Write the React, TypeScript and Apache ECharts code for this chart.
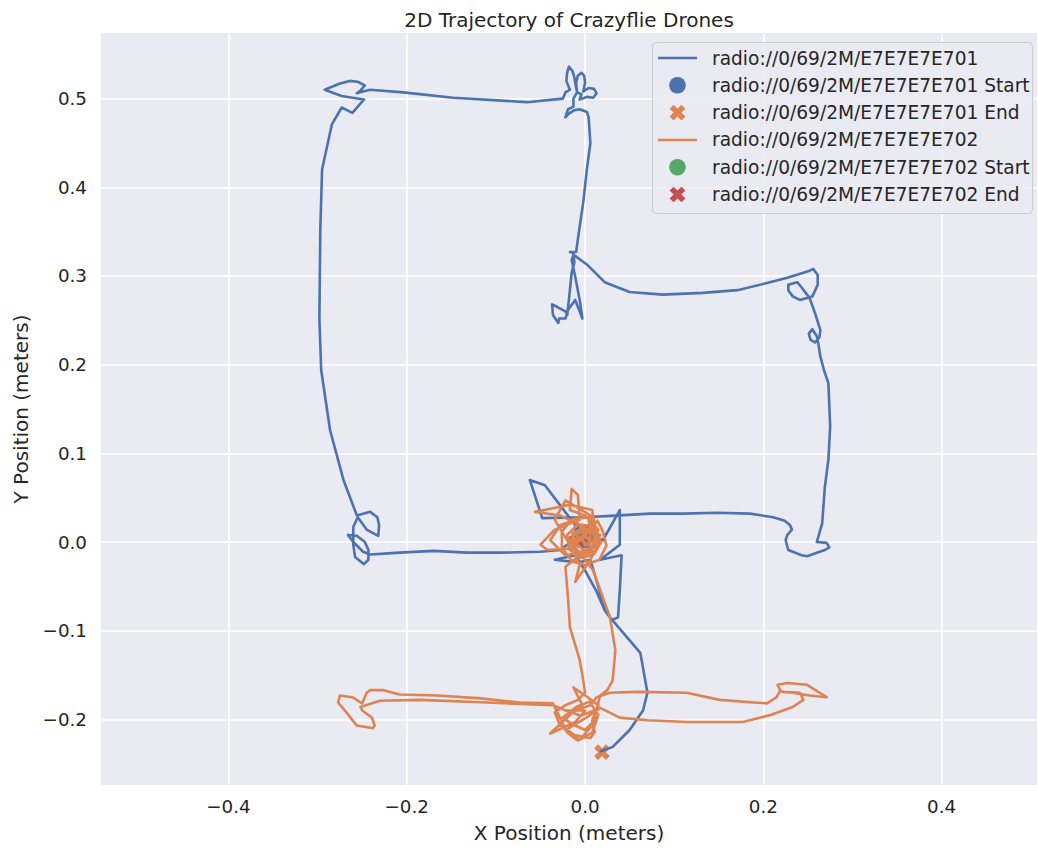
import React, { useEffect, useRef } from "react";
import * as echarts from "echarts";

const drone701Label = "radio://0/69/2M/E7E7E7E701";
const drone702Label = "radio://0/69/2M/E7E7E7E702";

const chartTitle = "2D Trajectory of Crazyflie Drones";
const xAxisTitle = "X Position (meters)";
const yAxisTitle = "Y Position (meters)";

const xRange = [-0.543, 0.507];
const yRange = [-0.274, 0.574];

const drone701Path: [number, number][] = [
  [-0.002, 0.002], [-0.011, 0.014], [0.006, 0.019], [0.011, -0.003], [-0.008, -0.015], [-0.017, 0.005], [0.003, 0.014],
  [-0.028, -0.009], [-0.05, -0.011], [-0.095, -0.012], [-0.132, -0.012], [-0.17, -0.01], [-0.208, -0.012], [-0.241, -0.014],
  [-0.249, -0.011], [-0.26, 0.0], [-0.266, 0.008], [-0.256, 0.007], [-0.247, 0.0], [-0.243, -0.009], [-0.243, -0.02],
  [-0.248, -0.025], [-0.258, -0.017], [-0.26, -0.003], [-0.26, 0.017], [-0.255, 0.028], [-0.245, 0.014], [-0.232, 0.007],
  [-0.231, 0.019], [-0.233, 0.028], [-0.241, 0.034], [-0.256, 0.03],
  [-0.271, 0.07], [-0.286, 0.126], [-0.296, 0.194], [-0.298, 0.251], [-0.297, 0.352], [-0.295, 0.42], [-0.284, 0.471],
  [-0.273, 0.49], [-0.261, 0.484], [-0.248, 0.499], [-0.261, 0.501], [-0.273, 0.503], [-0.292, 0.51], [-0.275, 0.517],
  [-0.264, 0.52], [-0.255, 0.519], [-0.247, 0.515], [-0.252, 0.509], [-0.256, 0.506], [-0.249, 0.508], [-0.241, 0.51],
  [-0.204, 0.507], [-0.148, 0.501], [-0.065, 0.496], [-0.025, 0.5],
  [-0.022, 0.507], [-0.017, 0.51], [-0.021, 0.52], [-0.02, 0.53], [-0.018, 0.536], [-0.014, 0.531], [-0.012, 0.524],
  [-0.01, 0.512], [-0.009, 0.508], [-0.01, 0.518], [-0.008, 0.526], [-0.004, 0.529], [-0.001, 0.526], [0.0, 0.518],
  [-0.002, 0.508], [0.004, 0.512], [0.01, 0.511], [0.013, 0.506], [0.009, 0.501], [0.002, 0.502], [-0.006, 0.499],
  [-0.004, 0.505], [-0.009, 0.507], [-0.013, 0.5], [-0.013, 0.491], [-0.019, 0.488], [-0.022, 0.479], [-0.018, 0.483],
  [-0.012, 0.487], [-0.006, 0.488], [0.002, 0.485], [0.004, 0.479],
  [0.006, 0.45], [0.002, 0.42], [-0.002, 0.383], [-0.007, 0.349], [-0.01, 0.327],
  [-0.017, 0.327], [-0.013, 0.326], [-0.012, 0.315], [-0.015, 0.304], [-0.017, 0.284], [-0.019, 0.265], [-0.02, 0.256],
  [-0.022, 0.26], [-0.031, 0.265], [-0.037, 0.268], [-0.036, 0.256], [-0.03, 0.247], [-0.029, 0.252], [-0.022, 0.252],
  [-0.019, 0.262], [-0.011, 0.273], [-0.003, 0.252], [-0.006, 0.273], [-0.011, 0.299], [-0.015, 0.318], [-0.013, 0.324],
  [0.002, 0.313], [0.022, 0.293], [0.05, 0.282], [0.087, 0.279], [0.132, 0.281], [0.171, 0.284], [0.204, 0.292],
  [0.227, 0.298], [0.252, 0.306], [0.256, 0.308], [0.261, 0.301], [0.261, 0.29], [0.255, 0.277], [0.241, 0.273],
  [0.233, 0.277], [0.228, 0.284], [0.228, 0.29], [0.238, 0.293], [0.243, 0.287], [0.252, 0.275], [0.258, 0.258],
  [0.264, 0.239], [0.263, 0.231], [0.258, 0.225], [0.253, 0.228], [0.251, 0.235], [0.255, 0.24], [0.26, 0.232],
  [0.262, 0.222], [0.264, 0.209], [0.268, 0.194],
  [0.273, 0.179], [0.275, 0.13], [0.273, 0.093], [0.269, 0.062], [0.266, 0.021], [0.26, 0.0], [0.271, -0.001],
  [0.274, -0.006], [0.269, -0.009], [0.26, -0.012], [0.249, -0.016], [0.243, -0.015], [0.228, -0.009], [0.225, 0.002],
  [0.227, 0.008], [0.232, 0.014], [0.23, 0.019], [0.224, 0.024], [0.211, 0.028], [0.185, 0.032], [0.148, 0.033],
  [0.11, 0.032], [0.073, 0.032], [0.039, 0.03], [0.0, 0.028], [-0.048, 0.027],
  [-0.062, 0.07], [-0.045, 0.064], [-0.011, 0.019], [0.006, 0.008], [0.02, 0.002], [0.039, 0.036], [0.039, -0.003],
  [0.017, -0.02], [0.041, -0.015], [0.039, -0.054], [0.037, -0.085], [0.03, -0.088], [0.022, -0.077], [0.013, -0.056],
  [0.0, -0.032], [-0.011, -0.015], [-0.034, -0.02], [-0.008, -0.023], [0.006, -0.02],
  [0.017, -0.058], [0.028, -0.085], [0.062, -0.125], [0.07, -0.17], [0.065, -0.19], [0.05, -0.212], [0.031, -0.231],
  [0.018, -0.236],
];

const drone702Path: [number, number][] = [
  [0.002, 0.01], [0.012, 0.015], [0.018, 0.0], [0.01, -0.014], [-0.005, -0.018], [-0.018, -0.008], [-0.02, 0.008],
  [-0.008, 0.02], [0.008, 0.018], [0.016, 0.006], [0.012, -0.01], [-0.002, -0.014], [-0.014, -0.006], [-0.014, 0.01],
  [-0.002, 0.016], [0.01, 0.01], [0.01, -0.004], [0.0, -0.01], [-0.01, -0.002], [-0.008, 0.01], [0.004, 0.012],
  [0.014, 0.024], [0.02, 0.012], [0.024, -0.004], [0.016, -0.02], [0.0, -0.026], [-0.016, -0.02], [-0.026, -0.006],
  [-0.026, 0.012], [-0.014, 0.026], [0.004, 0.028], [0.006, 0.004], [-0.004, 0.006], [0.0, -0.004], [0.006, 0.0],
  [-0.011, 0.025], [-0.028, 0.019], [-0.039, 0.002], [-0.022, -0.015], [0.006, -0.009], [0.015, 0.014],
  [0.0, 0.03], [-0.017, 0.036], [-0.015, 0.06], [-0.008, 0.053], [-0.006, 0.025], [-0.034, 0.014], [-0.05, -0.003],
  [-0.042, -0.009], [-0.015, -0.007], [0.011, 0.019], [0.008, 0.036], [-0.017, 0.042], [-0.056, 0.034], [-0.028, 0.03],
  [0.0, 0.016], [0.017, 0.002], [0.006, -0.02], [-0.011, -0.045], [-0.006, -0.026], [-0.017, -0.003], [-0.034, 0.025],
  [-0.022, 0.047], [0.006, 0.03], [0.012, -0.003], [-0.006, -0.015], [-0.022, -0.028],
  [-0.019, -0.065], [-0.017, -0.096], [-0.006, -0.133], [-0.003, -0.15], [0.0, -0.17],
  [-0.008, -0.178], [-0.022, -0.184], [-0.034, -0.192], [-0.028, -0.207], [-0.011, -0.218], [0.006, -0.221],
  [0.011, -0.214], [0.008, -0.201], [0.015, -0.184], [0.003, -0.175], [-0.013, -0.164], [-0.003, -0.184],
  [-0.017, -0.195], [-0.039, -0.216], [-0.011, -0.203], [0.0, -0.19], [-0.02, -0.19], [-0.005, -0.196], [0.01, -0.19],
  [0.012, -0.2], [0.0, -0.212], [-0.015, -0.205], [-0.025, -0.198], [-0.01, -0.186], [0.005, -0.18], [0.015, -0.195],
  [0.008, -0.215], [-0.008, -0.224], [-0.02, -0.215], [-0.036, -0.182],
  [-0.073, -0.181], [-0.12, -0.176], [-0.166, -0.173], [-0.208, -0.172], [-0.227, -0.167], [-0.241, -0.167],
  [-0.245, -0.17], [-0.25, -0.182], [-0.261, -0.175], [-0.275, -0.173], [-0.277, -0.181], [-0.267, -0.193],
  [-0.256, -0.207], [-0.238, -0.21], [-0.236, -0.207], [-0.239, -0.198], [-0.25, -0.19], [-0.252, -0.186],
  [-0.23, -0.179], [-0.185, -0.178], [-0.11, -0.181], [-0.036, -0.184], [-0.017, -0.192], [0.006, -0.184],
  [0.013, -0.175], [0.028, -0.17], [0.058, -0.169], [0.114, -0.17], [0.151, -0.178], [0.204, -0.182], [0.215, -0.175],
  [0.219, -0.167], [0.216, -0.161], [0.227, -0.159], [0.249, -0.161], [0.271, -0.175], [0.252, -0.173], [0.233, -0.17],
  [0.221, -0.169], [0.241, -0.17], [0.245, -0.178], [0.233, -0.186], [0.208, -0.195], [0.177, -0.203], [0.114, -0.203],
  [0.07, -0.201], [0.039, -0.198], [0.017, -0.187],
  [0.0, -0.199], [-0.022, -0.212], [-0.006, -0.223], [0.008, -0.207],
  [0.017, -0.173], [0.025, -0.167], [0.031, -0.156], [0.034, -0.122], [0.028, -0.085], [0.017, -0.054], [0.009, -0.032],
  [0.0, -0.02], [-0.017, 0.002], [-0.006, 0.014], [0.017, 0.008], [0.003, -0.003], [-0.008, 0.005], [0.008, 0.012],
  [0.014, -0.002], [0.004, -0.012], [-0.01, -0.01], [-0.012, 0.004], [-0.003, 0.002],
];

const drone701Start: [number, number] = [-0.002, 0.002];
const drone701End: [number, number] = [0.019, -0.237];
const drone702Start: [number, number] = [0.002, 0.01];
const drone702End: [number, number] = [-0.003, 0.002];

const BLUE = "#4C72B0";
const ORANGE = "#DD8452";
const GREEN = "#55A868";
const RED = "#C44E52";
const INK = "#262626";
const FONT = "DejaVu Sans";

const X_PATH =
  "path://M-1,-3L1,-3L1,-1L3,-1L3,1L1,1L1,3L-1,3L-1,1L-3,1L-3,-1L-1,-1Z";

function xMarkerPoints(cx: number, cy: number, s: number): number[][] {
  const base = [
    [-1, -3], [1, -3], [1, -1], [3, -1], [3, 1], [1, 1],
    [1, 3], [-1, 3], [-1, 1], [-3, 1], [-3, -1], [-1, -1],
  ];
  const k = s / 6 / Math.SQRT2;
  return base.map(([x, y]) => [cx + (x - y) * k, cy + (x + y) * k]);
}

const fmt = (v: number) =>
  v < -1e-9 ? "\u2212" + (-v).toFixed(1) : Math.abs(v).toFixed(1);

export default function App() {
  const ref = useRef<HTMLDivElement>(null);

  useEffect(() => {
    document.body.style.margin = "0";
    if (!ref.current) return;
    const chart = echarts.init(ref.current, undefined, { renderer: "svg" });

    const legendRows = [
      { label: drone701Label, kind: "line", color: BLUE },
      { label: drone701Label + " Start", kind: "circle", color: BLUE },
      { label: drone701Label + " End", kind: "x", color: ORANGE },
      { label: drone702Label, kind: "line", color: ORANGE },
      { label: drone702Label + " Start", kind: "circle", color: GREEN },
      { label: drone702Label + " End", kind: "x", color: RED },
    ];
    const legendEls: any[] = [
      {
        type: "rect",
        shape: { x: 652.5, y: 42.5, width: 380, height: 171, r: 4 },
        style: { fill: "rgba(234,234,242,0.8)", stroke: "#cccccc", lineWidth: 1 },
        z: 10,
      },
    ];
    legendRows.forEach((row, i) => {
      const cy = 58 + i * 27.3;
      if (row.kind === "line") {
        legendEls.push({
          type: "line",
          shape: { x1: 658, y1: cy, x2: 697, y2: cy },
          style: { stroke: row.color, lineWidth: 2.5 },
          z: 11,
        });
      } else if (row.kind === "circle") {
        legendEls.push({
          type: "circle",
          shape: { cx: 677.5, cy, r: 8.3 },
          style: { fill: row.color },
          z: 11,
        });
      } else {
        legendEls.push({
          type: "polygon",
          shape: { points: xMarkerPoints(677.5, cy, 16.7) },
          style: { fill: row.color },
          z: 11,
        });
      }
      legendEls.push({
        type: "text",
        x: 712,
        y: cy,
        style: {
          text: row.label,
          fontSize: 18.6,
          fontFamily: FONT,
          fill: INK,
          align: "left",
          verticalAlign: "middle",
        },
        z: 11,
      });
    });

    chart.setOption({
      animation: false,
      backgroundColor: "#ffffff",
      title: {
        text: chartTitle,
        left: 564,
        top: 5,
        textAlign: "center",
        textStyle: { fontSize: 20, fontWeight: "normal", color: INK, fontFamily: FONT },
      },
      grid: {
        left: 101,
        right: 1,
        top: 33,
        bottom: 67,
        show: true,
        backgroundColor: "#EAEAF2",
        borderWidth: 0,
      },
      xAxis: {
        type: "value",
        min: xRange[0],
        max: xRange[1],
        splitNumber: 5,
        axisLine: { show: false },
        axisTick: { show: false },
        axisLabel: {
          margin: 12,
          fontSize: 18.3,
          color: INK,
          fontFamily: FONT,
          showMinLabel: false,
          showMaxLabel: false,
          formatter: fmt,
        },
        splitLine: {
          show: true,
          showMinLine: false,
          showMaxLine: false,
          lineStyle: { color: "#ffffff", width: 1.6 },
        },
        name: xAxisTitle,
        nameLocation: "middle",
        nameGap: 38,
        nameTextStyle: { fontSize: 20, color: INK, fontFamily: FONT },
      },
      yAxis: {
        type: "value",
        min: yRange[0],
        max: yRange[1],
        splitNumber: 8,
        axisLine: { show: false },
        axisTick: { show: false },
        axisLabel: {
          margin: 14,
          fontSize: 18.3,
          color: INK,
          fontFamily: FONT,
          showMinLabel: false,
          showMaxLabel: false,
          formatter: fmt,
        },
        splitLine: {
          show: true,
          showMinLine: false,
          showMaxLine: false,
          lineStyle: { color: "#ffffff", width: 1.6 },
        },
        name: yAxisTitle,
        nameLocation: "middle",
        nameGap: 70,
        nameRotate: 90,
        nameTextStyle: { fontSize: 20, color: INK, fontFamily: FONT },
      },
      series: [
        {
          name: drone701Label,
          type: "line",
          data: drone701Path,
          showSymbol: false,
          smooth: false,
          lineStyle: { color: BLUE, width: 2.6, cap: "round", join: "round" },
          itemStyle: { color: BLUE },
          z: 4,
        },
        {
          name: drone701Label + " Start",
          type: "scatter",
          data: [drone701Start],
          symbol: "circle",
          symbolSize: 16.7,
          itemStyle: { color: BLUE, opacity: 1 },
          z: 2,
        },
        {
          name: drone701Label + " End",
          type: "scatter",
          data: [drone701End],
          symbol: X_PATH,
          symbolSize: 16.7,
          symbolRotate: 45,
          itemStyle: { color: ORANGE, opacity: 1 },
          z: 2,
        },
        {
          name: drone702Label,
          type: "line",
          data: drone702Path,
          showSymbol: false,
          smooth: false,
          lineStyle: { color: ORANGE, width: 2.6, cap: "round", join: "round" },
          itemStyle: { color: ORANGE },
          z: 5,
        },
        {
          name: drone702Label + " Start",
          type: "scatter",
          data: [drone702Start],
          symbol: "circle",
          symbolSize: 16.7,
          itemStyle: { color: GREEN, opacity: 1 },
          z: 2,
        },
        {
          name: drone702Label + " End",
          type: "scatter",
          data: [drone702End],
          symbol: X_PATH,
          symbolSize: 16.7,
          symbolRotate: 45,
          itemStyle: { color: RED, opacity: 1 },
          z: 2,
        },
      ],
      graphic: legendEls,
    });

    return () => chart.dispose();
  }, []);

  return <div ref={ref} style={{ width: 1038, height: 852 }} />;
}
